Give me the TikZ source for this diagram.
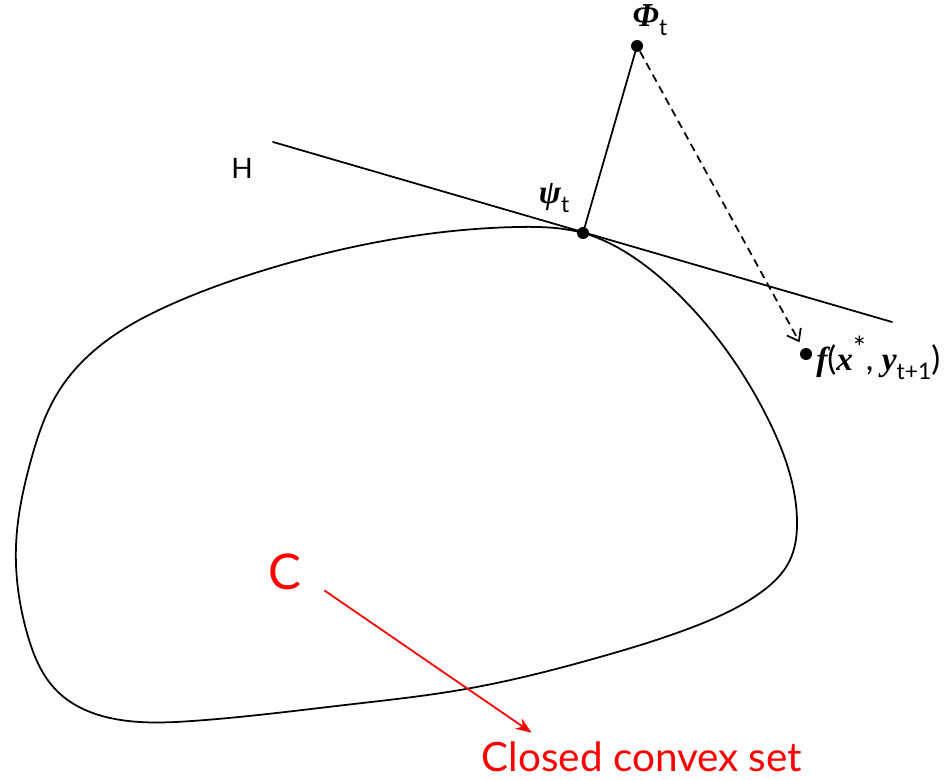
\documentclass[tikz,border=0pt]{standalone}
\usepackage{fontspec}
\setmainfont{Lato}
\newfontfamily\bitfont{Liberation Serif}
\usepackage{tikz}
\usetikzlibrary{positioning,arrows.meta,hobby}

\newcommand{\bi}[1]{{\bitfont\bfseries\itshape #1}}
\newcommand{\lowsub}[1]{\raisebox{-0.55ex}{\fontsize{13}{15}\selectfont #1}}

\begin{document}
\begin{tikzpicture}[x=0.02cm, y=-0.02cm,
   dot/.style={circle, fill=black, inner sep=0pt, minimum size=0.24cm},
   mathlabel/.style={inner sep=0pt, font=\fontsize{19}{22}\selectfont},
   line/.style={line width=1pt, line cap=round},
   dasharrow/.style={line width=1pt, dash pattern=on 4.5pt off 3pt, -{Straight Barb[length=6pt,width=9pt]}, shorten >=4pt},
   redlabel/.style={inner sep=0pt, text=red},
   redarrow/.style={red, line width=1pt, -{Stealth[length=9pt,width=7pt]}}
]
\useasboundingbox (0,0) rectangle (946,780);

% Closed convex set
\draw[line width=1pt, use Hobby shortcut, closed=true]
  (583,233) .. (627,253) .. (677,293) .. (767,417)
  .. (797,520) .. (789,562) .. (760,593) .. (693,627) .. (600,657) .. (460,690)
  .. (345,705) .. (192,721) .. (115,719) .. (57,691) .. (27,633) .. (16,546)
  .. (31,460) .. (57,394) .. (96,349) .. (172,304) .. (268,269) .. (383,241)
  .. (517,227);

% Nodes
\node [dot] (phi) at (637,46) {};
\node [dot] (psi) at (583,233) {};
\node [dot] (fx) at (806,354) {};
\coordinate (hL) at (273,142);
\coordinate (hR) at (892,322);

\node [mathlabel] (phiL) at (650,20) {\bi{Φ}\lowsub{t}};
\node [mathlabel] (psiL) at (554,198) {\bi{ψ}\lowsub{t}};
\node [mathlabel, anchor=west] (fxL) at (816,358) {\bi{f}(\bi{x}\raisebox{0.7ex}{\fontsize{17}{19}\selectfont *}, \bi{y}\lowsub{t+1})};
\node [inner sep=0pt, font=\fontsize{16}{18}\selectfont] (hLab) at (242,168) {H};

\node [redlabel, font=\fontsize{28}{32}\selectfont] (cC) at (285,572) {C};
\node [redlabel, font=\fontsize{23}{26}\selectfont] (cset) at (642,757) {Closed convex set};

% Connections
\draw [line] (hL) -- (hR);
\draw [line] (psi) -- (phi);
\draw [dasharrow] (phi) -- (fx);
\draw [redarrow] ([xshift=0.45cm]cC.south east) -- ([xshift=1cm, yshift=0.18cm]cset.north west);

\end{tikzpicture}
\end{document}
